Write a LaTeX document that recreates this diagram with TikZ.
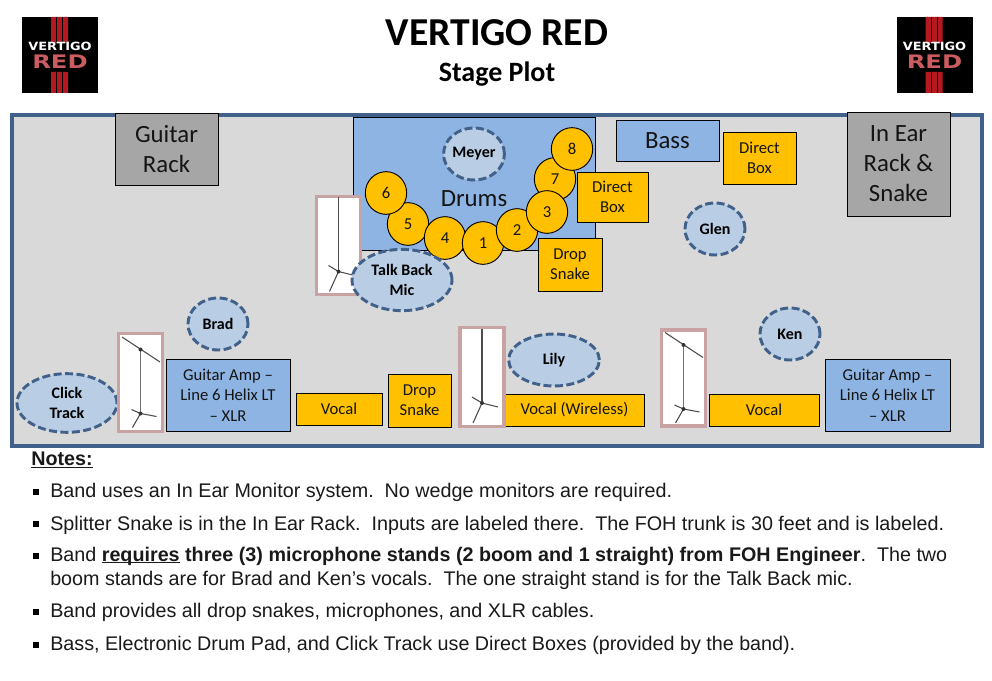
\documentclass[tikz,border=0pt]{standalone}
\usepackage{fontspec}
\setmainfont{Liberation Sans}
\newfontfamily\boxfont{Carlito}
\newfontfamily\logofont{DejaVu Sans}
\usetikzlibrary{shapes.geometric}
\definecolor{stageblue}{HTML}{41618A}
\definecolor{stagegray}{HTML}{D9D9D9}
\definecolor{rackgray}{HTML}{A6A6A6}
\definecolor{ampblue}{HTML}{8EB4E3}
\definecolor{talentblue}{HTML}{B9CDE5}
\definecolor{gearyellow}{HTML}{FFC000}
\definecolor{standpink}{HTML}{C9A3A3}
\definecolor{logored}{HTML}{B5181E}
\newcommand{\heavyline}[1]{\setbox0\hbox{#1}\rlap{\rule[-1.7pt]{\wd0}{0.9pt}}\box0\relax}
\tikzset{
  gearbox/.style={
    rectangle, draw=black, line width=0.7pt,
    align=center, inner sep=0pt, text=black!92
  },
  rackbox/.style={gearbox, fill=rackgray, font=\boxfont\fontsize{18.6}{22.5}\selectfont},
  bluebox/.style={gearbox, fill=ampblue, font=\boxfont\fontsize{12.5}{15.5}\selectfont},
  yellowbox/.style={gearbox, fill=gearyellow, font=\boxfont\fontsize{12.5}{15}\selectfont},
  padnode/.style={
    ellipse, draw=black, line width=0.7pt, fill=gearyellow, inner sep=0pt,
    minimum width=31pt, minimum height=32pt, text=black!92,
    font=\boxfont\fontsize{12.5}{15}\selectfont
  },
  talent/.style={
    ellipse, draw=stageblue, line width=2.2pt, dash pattern=on 6pt off 2.6pt,
    fill=talentblue, align=center, inner sep=0pt,
    font=\boxfont\bfseries\fontsize{12}{15}\selectfont
  },
  standbox/.style={
    rectangle, draw=standpink, line width=2.3pt, fill=white, inner sep=0pt,
    minimum width=33pt
  },
  standline/.style={draw=black!70, line width=0.8pt},
  notetext/.style={
    anchor=west, align=left, inner sep=0pt, text=black!90,
    font=\fontsize{14.8}{18}\selectfont
  },
  notebullet/.style={rectangle, fill=black, inner sep=0pt, minimum size=4.4pt},
  straightstand/.pic={
    \draw[standline, line width=1.1pt] (0,-48) -- (0,26);
    \draw[standline] (-10,20) -- (0,26) -- (16,30);
    \draw[standline] (0,26) -- (-9,46);
    \fill[black!80] (0,26) circle (2);
  },
  boomstand/.pic={
    \draw[standline] (-18.5,-45.5) -- (19.5,-20.5);
    \draw[standline, line width=1.4pt, draw=black!55] (0,-33) -- (0,31);
    \draw[standline] (-9,27) -- (0,31) -- (16,34);
    \draw[standline] (0,31) -- (-8,45);
    \fill[black!80] (0,-33) circle (2) (0,31) circle (2);
  },
  bandlogo/.pic={
    \fill[black] (-38,-38) rectangle (38,38);
    \fill[logored] (-9,-38) rectangle (8,-12) (-9,17) rectangle (8,38);
    \draw[black, line width=0.4pt] (-3.5,-38) -- (-3.5,-12) (2.5,-38) -- (2.5,-12)
      (-3.5,17) -- (-3.5,38) (2.5,17) -- (2.5,38);
    \node[inner sep=0pt, text=white, xscale=1.14, transform shape, font=\logofont\bfseries\fontsize{8.5}{8.5}\selectfont] (-word) at (0,-9) {VERTIGO};
    \node[inner sep=0pt, text=logored!70!white, xscale=1.3, transform shape, font=\logofont\bfseries\fontsize{14}{14}\selectfont] (-red) at (0,6.5) {RED};
  }
}

\begin{document}
\begin{tikzpicture}[x=0.75pt, y=-0.75pt]
  \useasboundingbox (0,0) rectangle (992,681);
  % header
  \node[font=\boxfont\bfseries\fontsize{29.7}{32}\selectfont] (title) at (497,33) {VERTIGO RED};
  \node[font=\boxfont\bfseries\fontsize{21}{24}\selectfont] (subtitle) at (497,74) {Stage Plot};
  \pic (logoleft) at (60,55) {bandlogo};
  \pic (logoright) at (934.5,55) {bandlogo};
  % stage
  \node[rectangle, draw=stageblue, line width=2.3pt, fill=stagegray, inner sep=0pt,
    minimum width=727.5pt, minimum height=248.25pt] (stage) at (497,280.5) {};
  \node[rackbox, minimum width=77.25pt, minimum height=54pt] (guitarrack) at (166.5,149) {Guitar\\Rack};
  \node[rackbox, minimum width=77.25pt, minimum height=78pt] (inearrack) at (898.5,164) {In Ear\\Rack \&\\Snake};
  % drums
  \node[gearbox, fill=ampblue, minimum width=181.5pt, minimum height=99.75pt] (drums) at (474,183.5) {};
  \node[font=\boxfont\fontsize{18.6}{22}\selectfont, text=black!92] (drumslabel) at (474,199) {Drums};
  \node[talent, minimum width=45pt, minimum height=39pt] (meyer) at (474,154) {Meyer};
  \node[padnode] (pad5) at (408,224) {5};
  \node[padnode] (pad6) at (386,193) {6};
  \node[padnode] (pad4) at (445,238) {4};
  \node[padnode] (pad1) at (483,243) {1};
  \node[padnode] (pad2) at (517,230) {2};
  \node[padnode] (pad7) at (555,179) {7};
  \node[padnode] (pad3) at (547,212) {3};
  \node[padnode] (pad8) at (572,149) {8};
  \node[yellowbox, minimum width=53.25pt, minimum height=37.5pt] (drumdirect) at (612.5,197) {Direct\\Box};
  \node[yellowbox, minimum width=48pt, minimum height=39.75pt] (drumsnake) at (570,264.5) {Drop\\Snake};
  % talk back
  \node[standbox, minimum height=74pt] (standtalk) at (338.5,245.5) {};
  \pic at (standtalk.center) {straightstand};
  \node[talent, minimum width=75pt, minimum height=46pt] (talkback) at (402,280) {Talk Back\\Mic};
  % bass side
  \node[bluebox, font=\boxfont\fontsize{18.6}{22}\selectfont, minimum width=77.25pt, minimum height=30.75pt] (bass) at (667.5,140.5) {Bass};
  \node[yellowbox, minimum width=54.75pt, minimum height=39pt] (bassdirect) at (759.5,158) {Direct\\Box};
  \node[talent, minimum width=45pt, minimum height=39pt] (glen) at (715,229) {Glen};
  % front line
  \node[talent, minimum width=75pt, minimum height=44pt] (click) at (67,403) {Click\\Track};
  \node[standbox, minimum height=73pt] (standbrad) at (140.5,382.5) {};
  \pic at (standbrad.center) {boomstand};
  \node[talent, minimum width=45pt, minimum height=39pt] (brad) at (218,324) {Brad};
  \node[bluebox, minimum width=93pt, minimum height=54pt] (ampbrad) at (228,395) {Guitar Amp –\\Line 6 Helix LT\\– XLR};
  \node[yellowbox, minimum width=64.5pt, minimum height=24pt] (vocalbrad) at (339,409) {Vocal};
  \node[yellowbox, minimum width=47.25pt, minimum height=39.75pt] (frontsnake) at (419.5,400.5) {Drop\\Snake};
  \node[yellowbox, minimum width=104.25pt, minimum height=24pt] (vocallily) at (574.5,410) {Vocal (Wireless)};
  \node[standbox, minimum height=74pt] (standlily) at (482,377) {};
  \pic at (standlily.center) {straightstand};
  \node[talent, minimum width=68pt, minimum height=39pt] (lily) at (554,360) {Lily};
  \node[standbox, minimum height=72pt] (standken) at (683.5,378) {};
  \pic at (standken.center) {boomstand};
  \node[yellowbox, minimum width=82.5pt, minimum height=24pt] (vocalken) at (764,410) {Vocal};
  \node[talent, minimum width=45pt, minimum height=39pt] (ken) at (790,334) {Ken};
  \node[bluebox, minimum width=93.75pt, minimum height=54pt] (ampken) at (887.5,395) {Guitar Amp –\\Line 6 Helix LT\\– XLR};
  % notes
  \node[notetext] (notes) at (31,460) {\heavyline{\textbf{Notes:}}};
  \node[notebullet] (b1) at (36,492) {};
  \node[notetext] (n1) at (50,492) {Band uses an In Ear Monitor system.\ \ No wedge monitors are required.};
  \node[notebullet] (b2) at (36,524) {};
  \node[notetext] (n2) at (50,525) {Splitter Snake is in the In Ear Rack.\ \ Inputs are labeled there.\ \ The FOH trunk is 30 feet and is labeled.};
  \node[notebullet] (b3) at (36,556) {};
  \node[notetext] (n3) at (50,568) {Band \textbf{\heavyline{requires} three (3) microphone stands (2 boom and 1 straight) from FOH Engineer}.\ \ The two\\boom stands are for Brad and Ken’s vocals.\ \ The one straight stand is for the Talk Back mic.};
  \node[notebullet] (b4) at (36,612) {};
  \node[notetext] (n4) at (50,612) {Band provides all drop snakes, microphones, and XLR cables.};
  \node[notebullet] (b5) at (36,645) {};
  \node[notetext] (n5) at (50,645) {Bass, Electronic Drum Pad, and Click Track use Direct Boxes (provided by the band).};
\end{tikzpicture}
\end{document}
